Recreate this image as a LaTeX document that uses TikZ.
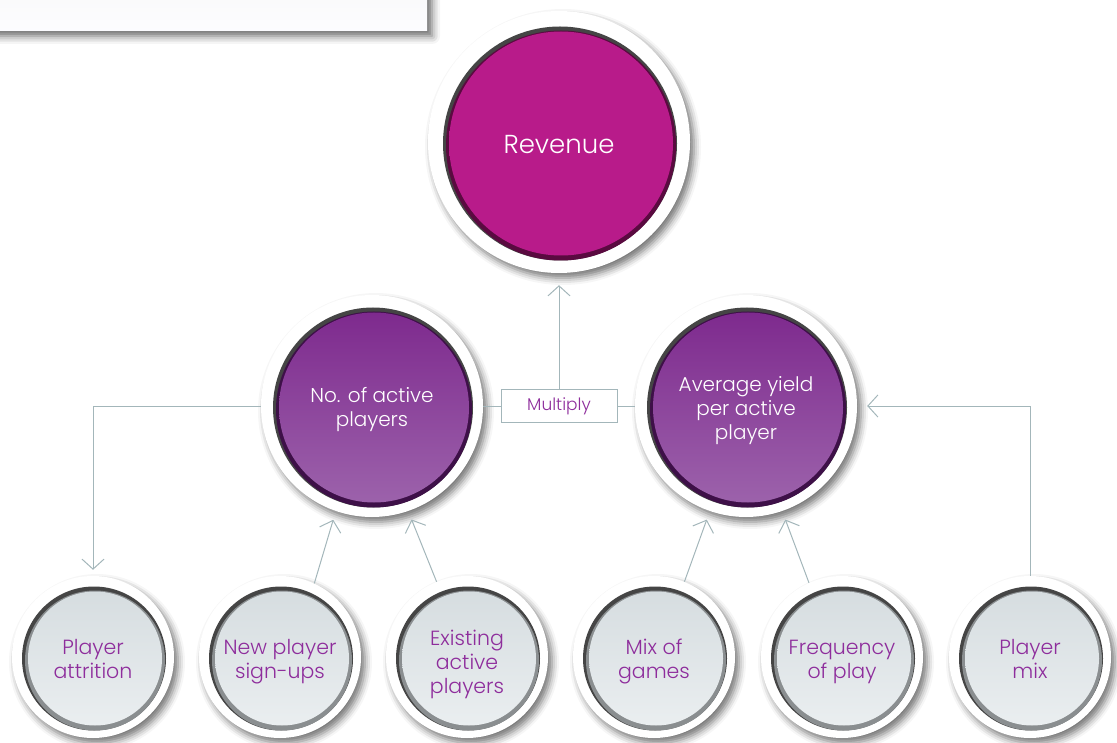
\documentclass[tikz,border=0pt]{standalone}
\usepackage{fontspec}
\setmainfont{Poppins}[UprightFont=* Light]
\usetikzlibrary{arrows.meta,shadows.blur,calc}
\definecolor{revc}{HTML}{B81B8A}
\definecolor{revdark}{HTML}{5A0A40}
\definecolor{ptop}{HTML}{7E2A8E}
\definecolor{pbot}{HTML}{9C62AB}
\definecolor{pdark}{HTML}{3E1048}
\definecolor{gtop}{HTML}{D6DDE0}
\definecolor{gbot}{HTML}{EAEEF0}
\definecolor{gdark}{HTML}{8A8E90}
\definecolor{rimc}{HTML}{454545}
\definecolor{linec}{HTML}{A3B6BA}
\definecolor{txtp}{HTML}{8E2D9C}
\newcommand\topgap[1]{\rule{0pt}{\dimexpr16.8pt+#1\relax}}
\tikzset{
  bubble/.style n args={4}{circle, inner sep=0pt, minimum size=#1, fill=white,
    blur shadow={shadow xshift=4pt, shadow yshift=-5pt, shadow blur radius=7pt, shadow opacity=55},
    align=center,
    path picture={
      \fill[rimc] ([shift={(1pt,-1.5pt)}]path picture bounding box.center) circle[radius=#2];
      \fill[#3] ([shift={(2pt,-3.5pt)}]path picture bounding box.center) circle[radius=#2-2pt];
      \shade[#4] ([shift={(2pt,-1.5pt)}]path picture bounding box.center) circle[radius=#2-5pt];
    }},
  bigtext/.style={text=white, font=\fontsize{26}{30}\selectfont},
  midtext/.style={text=white, font=\fontsize{20}{24}\selectfont},
  smalltext/.style={text=txtp, font=\fontsize{20.5}{24}\selectfont},
  arr/.style={draw=linec, line width=1pt, -{Straight Barb[length=10pt,width=22pt]}},
  link/.style={draw=linec, line width=1pt},
  mulbox/.style={draw=linec, line width=0.9pt, fill=white, minimum width=116pt, minimum height=33pt,
    inner sep=0pt, text=txtp, font=\fontsize{17}{20}\selectfont},
}
\begin{document}
\begin{tikzpicture}[x=1pt,y=-1pt]
\useasboundingbox (0,0) rectangle (1117,743);
% top-left panel
\fill[top color=gray!6, bottom color=blue!1!white,
  blur shadow={shadow xshift=5pt, shadow yshift=-5pt, shadow blur radius=8pt, shadow opacity=60}]
  (-30,-30) rectangle (427,31);
% circles
\node[bubble={262pt}{117pt}{revdark}{top color=revc, bottom color=revc}, bigtext] (rev) at (559,142) {\rule{0pt}{23pt}Revenue};
\node[bubble={222pt}{100pt}{pdark}{top color=ptop, bottom color=pbot}, midtext] (no) at (372,406) {\topgap{8pt}No. of active\\players\strut};
\node[bubble={222pt}{100pt}{pdark}{top color=ptop, bottom color=pbot}, midtext] (avg) at (746,406) {\topgap{10pt}Average yield\\per active\\player\strut};
\node[bubble={162pt}{72pt}{gdark}{top color=gtop, bottom color=gbot}, smalltext] (att) at (93,657) {\topgap{10pt}Player\\attrition\strut};
\node[bubble={162pt}{72pt}{gdark}{top color=gtop, bottom color=gbot}, smalltext] (sign) at (280,657) {\topgap{10pt}New player\\sign-ups\strut};
\node[bubble={162pt}{72pt}{gdark}{top color=gtop, bottom color=gbot}, smalltext] (exist) at (467,657) {\topgap{16pt}Existing\\active\\players\strut};
\node[bubble={162pt}{72pt}{gdark}{top color=gtop, bottom color=gbot}, smalltext] (mix) at (654,657) {\topgap{10pt}Mix of\\games\strut};
\node[bubble={162pt}{72pt}{gdark}{top color=gtop, bottom color=gbot}, smalltext] (freq) at (842,657) {\topgap{10pt}Frequency\\of play\strut};
\node[bubble={162pt}{72pt}{gdark}{top color=gtop, bottom color=gbot}, smalltext] (pmix) at (1030,657) {\topgap{10pt}Player\\mix\strut};
% multiply box
\node[mulbox] (mul) at (559,406) {Multiply};
% connectors
\draw[link] (no.east) -- (mul.west);
\draw[link] (mul.east) -- (avg.west);
\draw[arr, shorten >=12pt] (mul.north) -- (rev.south);
\draw[arr, shorten >=6pt] (no.west) -| (att.north);
\draw[arr, shorten >=9pt] (sign.65) -- (no.251);
\draw[arr, shorten >=9pt] (exist.112) -- (no.289);
\draw[arr, shorten >=9pt] (mix.68) -- (avg.251);
\draw[arr, shorten >=9pt] (freq.114) -- (avg.289);
\draw[arr, shorten >=10pt] (pmix.north) |- (avg.east);
\end{tikzpicture}
\end{document}
